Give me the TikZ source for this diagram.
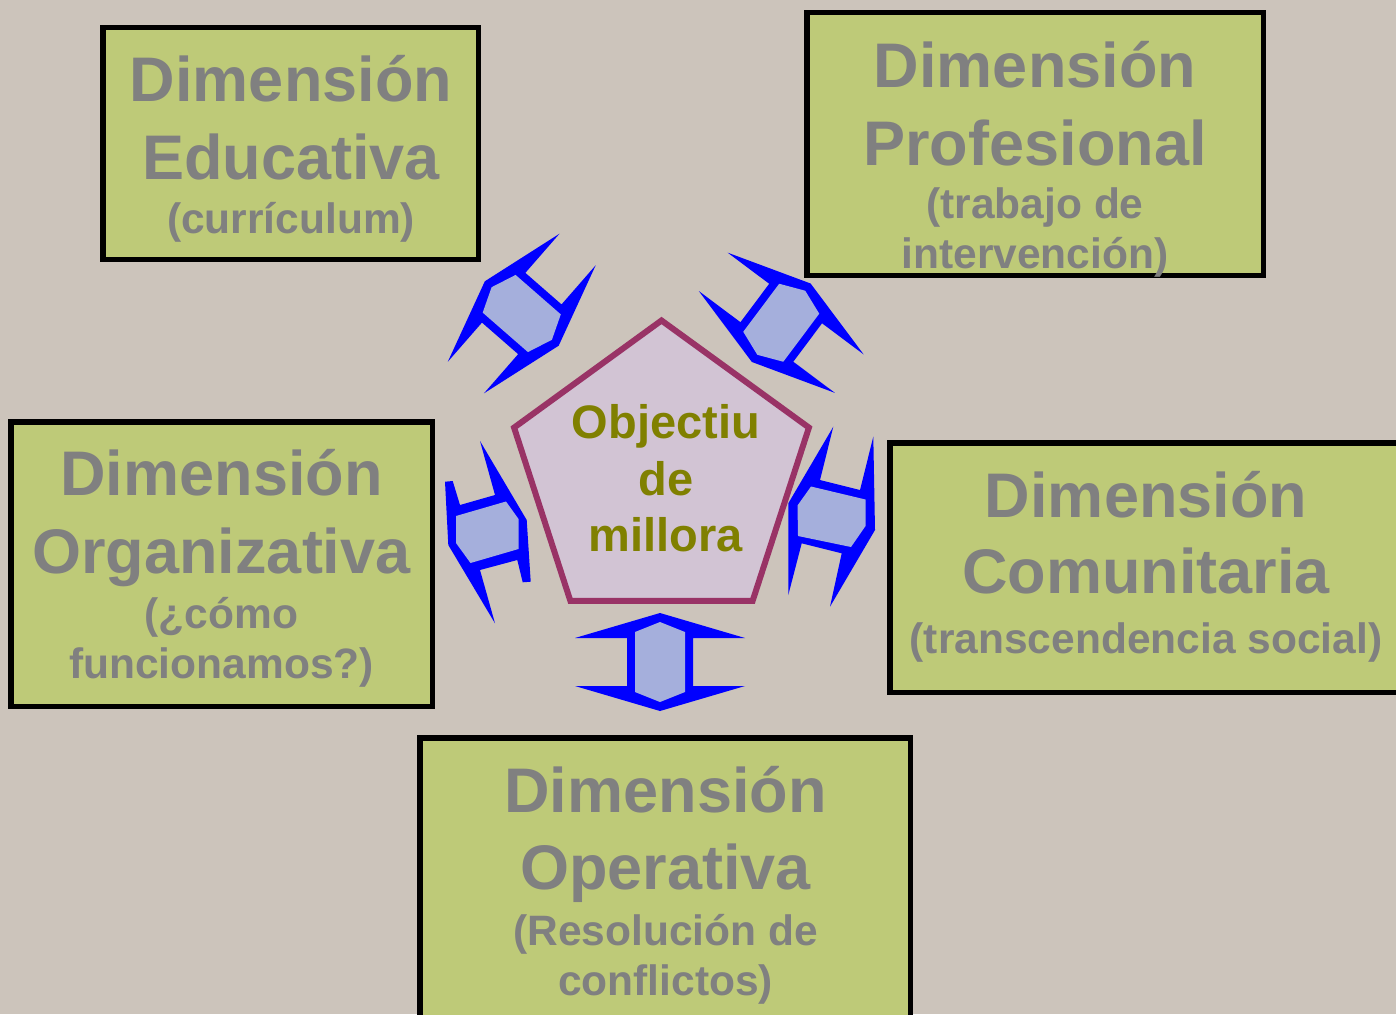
\documentclass[tikz,border=0pt]{standalone}
\usepackage{fontspec}
\setmainfont{Liberation Sans}
\usetikzlibrary{shapes.geometric}

\definecolor{bgbeige}{RGB}{204,196,187}
\definecolor{boxgreen}{RGB}{190,202,120}
\definecolor{txtgray}{RGB}{128,128,128}
\definecolor{goalline}{RGB}{153,51,102}
\definecolor{goalfill}{RGB}{210,196,212}
\definecolor{goalolive}{RGB}{128,128,0}
\definecolor{arrowblue}{RGB}{0,0,255}
\definecolor{arrowpale}{RGB}{165,175,220}

\begin{document}
\begin{tikzpicture}[x=1pt,y=-1pt,
	dimbox/.style={draw=black, line width=5.5pt, fill=boxgreen},
	bigtxt/.style={anchor=base, text=txtgray, font=\bfseries\fontsize{63}{70}\selectfont},
	subtxt/.style={anchor=base, text=txtgray, font=\bfseries\fontsize{42.5}{48}\selectfont},
	goaltxt/.style={anchor=base, text=goalolive, font=\bfseries\fontsize{47}{52}\selectfont},
	arrowline/.style={fill=arrowblue},
	arrowin/.style={fill=arrowpale}]
	\useasboundingbox (0,0) rectangle (1396,1014);
	\clip (0,0) rectangle (1396,1014);
	\fill[bgbeige] (0,0) rectangle (1396,1014);

	\draw[dimbox] (102.75,27.75) rectangle (478.25,259.25);
	\draw[dimbox] (806.75,12.75) rectangle (1263.25,275.25);
	\draw[dimbox] (10.75,421.75) rectangle (432.25,706.25);
	\draw[dimbox] (889.75,442.75) rectangle (1420,692.25);
	\draw[dimbox] (419.75,737.75) rectangle (910.25,1040);

	\foreach \cx/\cy/\ang in {660/662/0, 521.75/313.5/48.9, 781.25/322.75/-36.8}{
		\begin{scope}[shift={(\cx,\cy)}, rotate=\ang]
			\fill[arrowline] (0,-49) -- (-85,-24) -- (-33,-24) -- (-33,24) -- (-85,24) -- (0,49) -- (85,24) -- (33,24) -- (33,-24) -- (85,-24) -- cycle;
			\fill[arrowin] (0,-40) -- (-25,-30) -- (-25,30) -- (0,40) -- (25,30) -- (25,-30) -- cycle;
		\end{scope}
	}
	\fill[arrowline] (480,441) -- (526.7,520) -- (530.7,581.7) -- (522.7,582.3) -- (517.3,560) -- (480,570) -- (495,623.3) -- (448.3,545) -- (445,481.7) -- (452.7,481) -- (460,505) -- (495,495) -- cycle;
	\fill[arrowin] (456,516) -- (506,501.5) -- (518.5,519) -- (518.5,549) -- (470.5,563) -- (456,543) -- cycle;
	\fill[arrowline] (833.3,426.7) -- (820,480) -- (860,490) -- (873.3,436.7) -- (875,530) -- (830,606.7) -- (841.7,553.3) -- (801.7,543.3) -- (788.3,595) -- (788.3,503.3) -- cycle;
	\fill[arrowin] (811,486.5) -- (865.5,499.5) -- (865.5,526) -- (851,547) -- (798,536) -- (797.5,505.5) -- cycle;

	\node[regular polygon, regular polygon sides=5, minimum size=310pt, inner sep=0pt, draw=goalline, line width=6pt, fill=goalfill] (goal) at (661.5,475.5) {};
	\node[goaltxt] (goala) at (666,438.3) {Objectiu};
	\node[goaltxt] (goalb) at (666,495) {de};
	\node[goaltxt] (goalc) at (666,551.7) {millora};

	\node[bigtxt] (educa) at (291,101.7) {Dimensión};
	\node[bigtxt] (educb) at (291,179) {Educativa};
	\node[subtxt] (educc) at (291,233) {(currículum)};

	\node[bigtxt] (profa) at (1035,88) {Dimensión};
	\node[bigtxt] (profb) at (1035,165) {Profesional};
	\node[subtxt] (profc) at (1035,218.3) {(trabajo de};
	\node[subtxt] (profd) at (1035,268.3) {intervención)};

	\node[bigtxt] (orga) at (221.5,495) {Dimensión};
	\node[bigtxt] (orgb) at (221.5,573.3) {Organizativa};
	\node[subtxt] (orgc) at (221.5,628.3) {(¿cómo};
	\node[subtxt] (orgd) at (221.5,678.3) {funcionamos?)};

	\node[bigtxt] (comua) at (1146,517) {Dimensión};
	\node[bigtxt] (comub) at (1146,593.3) {Comunitaria};
	\node[subtxt] (comuc) at (1146,653.3) {(transcendencia social)};

	\node[bigtxt] (opera) at (665.5,812) {Dimensión};
	\node[bigtxt] (operb) at (665.5,889.3) {Operativa};
	\node[subtxt] (operc) at (665.5,945) {(Resolución de};
	\node[subtxt] (operd) at (665.5,995) {conflictos)};
\end{tikzpicture}
\end{document}
